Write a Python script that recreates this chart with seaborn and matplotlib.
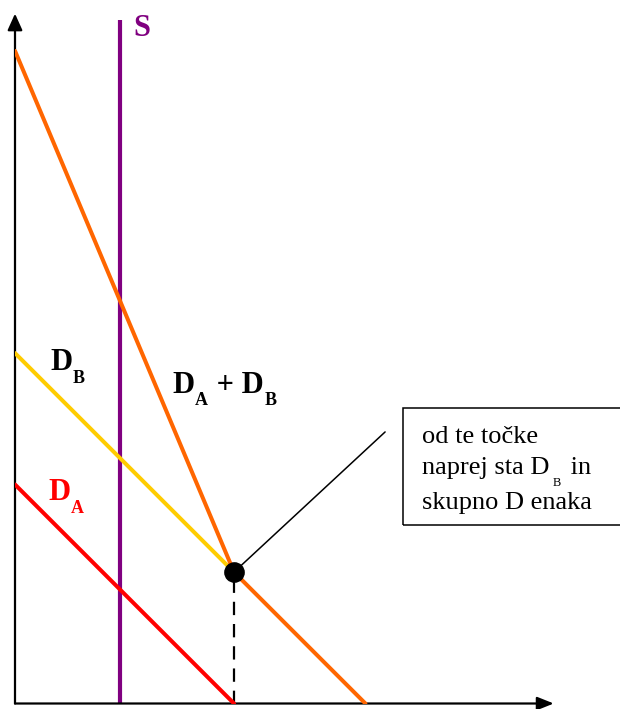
import matplotlib
matplotlib.use("Agg")
import matplotlib.pyplot as plt
from matplotlib.patches import Rectangle
from matplotlib.transforms import offset_copy
import seaborn as sns

# ---- data (quantity, price) ----
q_da = [0, 10]
p_da = [10, 0]
q_db = [0, 10]
p_db = [16, 6]
q_sum = [0, 10, 16]
p_sum = [29.8, 6, 0]
s_q = 4.8
s_top = 31.2
point_q, point_p = 10, 6

sns.set_style("white")
plt.rcParams["font.family"] = ["Liberation Serif", "DejaVu Serif"]

PX = 21.9  # pixels per unit
fig = plt.figure(figsize=(6.2, 7.09), dpi=100)
ax = fig.add_axes([15 / 620, 5.5 / 709, 605 / 620, 703.5 / 709])
ax.set_xlim(0, 605 / PX)
ax.set_ylim(0, 703.5 / PX)
ax.axis("off")

# axes with arrows
ax.annotate("", xy=(0, 31.5), xytext=(0, 0),
            arrowprops=dict(arrowstyle="-|>,head_length=1.0,head_width=0.45",
                            color="black", lw=1.6, shrinkA=0, shrinkB=0),
            annotation_clip=False)
ax.annotate("", xy=(24.6, 0), xytext=(0, 0),
            arrowprops=dict(arrowstyle="-|>,head_length=1.0,head_width=0.4",
                            color="black", lw=1.6, shrinkA=0, shrinkB=0),
            annotation_clip=False)

# supply (vertical)
ax.plot([s_q, s_q], [0, s_top], color="#800080", lw=3, solid_capstyle="butt", zorder=2)

# demand curves
lw = 2.9
sns.lineplot(x=q_db, y=p_db, color="#FFCC00", lw=lw, estimator=None, sort=False, ax=ax, zorder=3)
sns.lineplot(x=q_da, y=p_da, color="#FF0000", lw=lw, estimator=None, sort=False, ax=ax, zorder=3)
sns.lineplot(x=q_sum, y=p_sum, color="#FF6600", lw=lw, estimator=None, sort=False, ax=ax, zorder=4)

# dashed drop line and point
ax.plot([point_q, point_q], [0, point_p], color="black", lw=1.6, ls=(0, (6, 4)), zorder=2)
ax.plot([point_q, 16.9], [point_p, 12.4], color="black", lw=1.1, zorder=2)
sns.scatterplot(x=[point_q], y=[point_p], s=190, color="black", edgecolor="black", ax=ax, zorder=6)

# note box
ax.add_patch(Rectangle((17.7, 8.15), 12, 5.35, fill=False, edgecolor="black", lw=1.1,
                       clip_on=True, zorder=5))

renderer = fig.canvas.get_renderer()


def label(x, y, parts, color="black", size=22, sub_size=13, drop=13, weight="bold", gap=1):
    dx = 0
    for txt, sub in parts:
        tr = offset_copy(ax.transData, fig=fig, x=dx, y=-drop if sub else 0, units="dots")
        t = ax.text(x, y, txt, transform=tr, color=color, fontsize=sub_size if sub else size,
                    fontweight=weight, ha="left", va="baseline", zorder=7)
        dx += t.get_window_extent(renderer).width + gap


label((133 - 15) / PX, (703.5 - 36) / PX, [("S", False)], color="#800080", size=22)
label((50 - 15) / PX, (703.5 - 370) / PX, [("D", False), ("B", True)])
label((48 - 15) / PX, (703.5 - 500) / PX, [("D", False), ("A", True)], color="#FF0000")
label((172 - 15) / PX, (703.5 - 393) / PX,
      [("D", False), ("A", True), (" + D", False), ("B", True)], drop=12)

bx = (422 - 15) / PX
label(bx, (703.5 - 443) / PX, [("od te točke", False)], size=19, weight="normal")
label(bx, (703.5 - 474) / PX, [("naprej sta D", False), ("B", True), (" in", False)],
      size=19, sub_size=9, drop=12, weight="normal", gap=3)
label(bx, (703.5 - 509) / PX, [("skupno D enaka", False)], size=19, weight="normal")

fig.savefig("out.png", dpi=100)
